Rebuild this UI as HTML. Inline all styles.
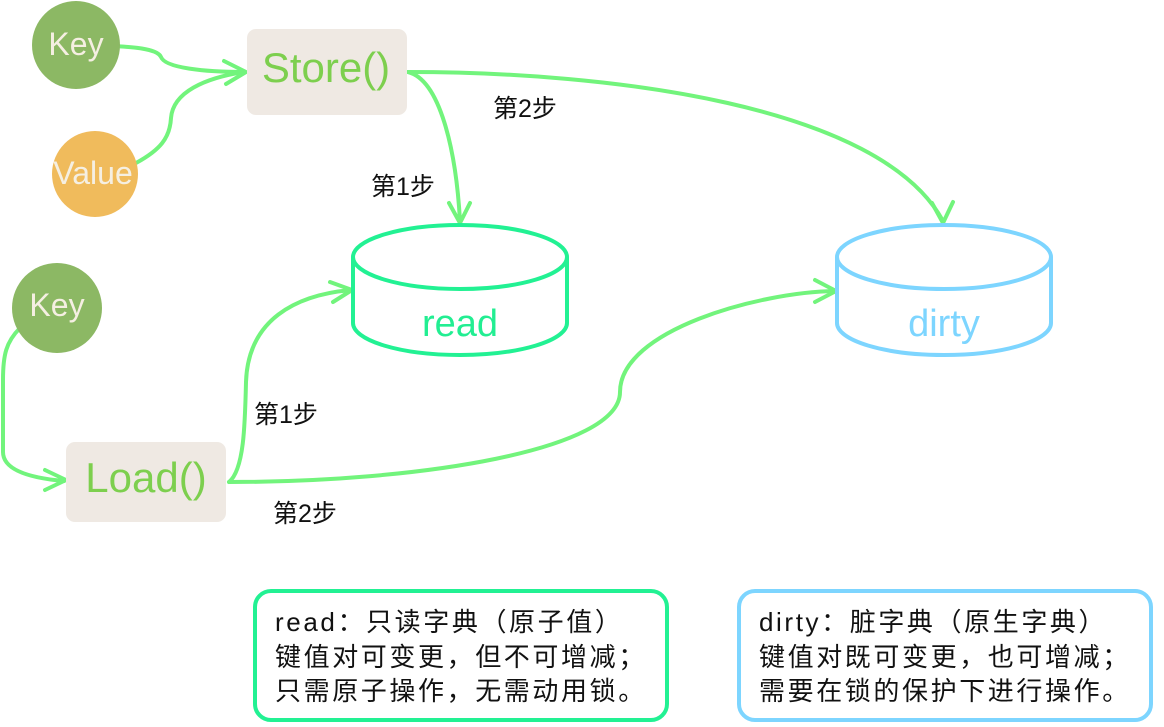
<!DOCTYPE html>
<html><head><meta charset="utf-8"><style>
html,body{margin:0;padding:0;background:#fff;}
body{width:1164px;height:727px;overflow:hidden;position:relative;}
svg{position:absolute;left:0;top:0;}
.box{position:absolute;box-sizing:border-box;border-radius:18px;background:#fff;}
.box div{font-family:"Liberation Sans","Noto Sans CJK SC",sans-serif;font-size:26px;line-height:34.5px;color:#111;letter-spacing:2.6px;white-space:nowrap;}
</style></head><body>
<svg width="1164" height="727" viewBox="0 0 1164 727" xmlns="http://www.w3.org/2000/svg">
<g fill="none" stroke="#72f47c" stroke-width="4" stroke-linecap="round" stroke-linejoin="round">
<path d="M110 46 C140 47,158 50,161 57 C165 68,205 72,244 72"/>
<path d="M224 61 L246 72 L226 84"/>
<path d="M136 163 C160 150,170 138,171 118 C173 92,205 78,244 72"/>
<path d="M408 72 C440 80,456 150,460 221"/>
<path d="M449 203 L460 223 L470 203"/>
<path d="M408 72 C610 72,880 105,943 221"/>
<path d="M932 203 L943 223 L953 202"/>
<path d="M20 328 C6 342,3 355,3 380 L3 452 C3 470,30 478,64 481"/>
<path d="M45 470 L66 480 L45 490"/>
<path d="M229 482 C244 470,245 425,246 382 C248 320,295 295,351 290"/>
<path d="M330 282 L352 290 L333 302"/>
<path d="M229 482 C420 482,620 450,620 392 C620 330,760 292,835 291"/>
<path d="M815 280 L836 291 L815 302"/>
</g>
<circle cx="76" cy="45" r="44" fill="#8cb864"/>
<circle cx="95" cy="174" r="43" fill="#f0bb5c"/>
<circle cx="57" cy="308" r="45" fill="#8cb864"/>
<rect x="247" y="29" width="160" height="86" rx="9" fill="#efe9e3"/>
<rect x="66" y="442" width="160" height="80" rx="9" fill="#efe9e3"/>
<g font-family="Liberation Sans, sans-serif" fill="#f5efe2" font-size="32" text-anchor="middle">
<text x="76" y="55">Key</text>
<text x="93" y="184" font-size="32">Value</text>
<text x="57" y="316">Key</text>
</g>
<g font-family="Liberation Sans, sans-serif" fill="#7dcf4e" font-size="42" text-anchor="middle">
<text x="326" y="82">Store()</text>
<text x="146" y="492">Load()</text>
</g>
<g fill="#fff" stroke="#22f193" stroke-width="4">
<path d="M353 257 L353 323 A107 32 0 0 0 567 323 L567 257"/>
<ellipse cx="460" cy="257" rx="107" ry="32"/>
</g>
<g fill="#fff" stroke="#7dd5ff" stroke-width="4">
<path d="M837 257 L837 323 A107 32 0 0 0 1051 323 L1051 257"/>
<ellipse cx="944" cy="257" rx="107" ry="32"/>
</g>
<text x="460" y="336" font-family="Liberation Sans, sans-serif" font-size="38" fill="#22ee92" text-anchor="middle">read</text>
<text x="944" y="336" font-family="Liberation Sans, sans-serif" font-size="38" fill="#7dd5ff" text-anchor="middle">dirty</text>
<g font-family="Liberation Sans, Noto Sans CJK SC, sans-serif" font-size="25" fill="#111">
<text x="493" y="117">第2步</text>
<text x="371" y="195">第1步</text>
<text x="254" y="423">第1步</text>
<text x="273" y="522">第2步</text>
</g>
</svg>
<div class="box" style="left:253px;top:589px;width:416px;height:133px;border:4px solid #22f193;padding:12px 0 0 18px;">
<div>read：只读字典（原子值）</div>
<div>键值对可变更，但不可增减；</div>
<div>只需原子操作，无需动用锁。</div>
</div>
<div class="box" style="left:737px;top:589px;width:416px;height:133px;border:4px solid #7dd5ff;padding:12px 0 0 18px;">
<div>dirty：脏字典（原生字典）</div>
<div>键值对既可变更，也可增减；</div>
<div>需要在锁的保护下进行操作。</div>
</div>
</body></html>
